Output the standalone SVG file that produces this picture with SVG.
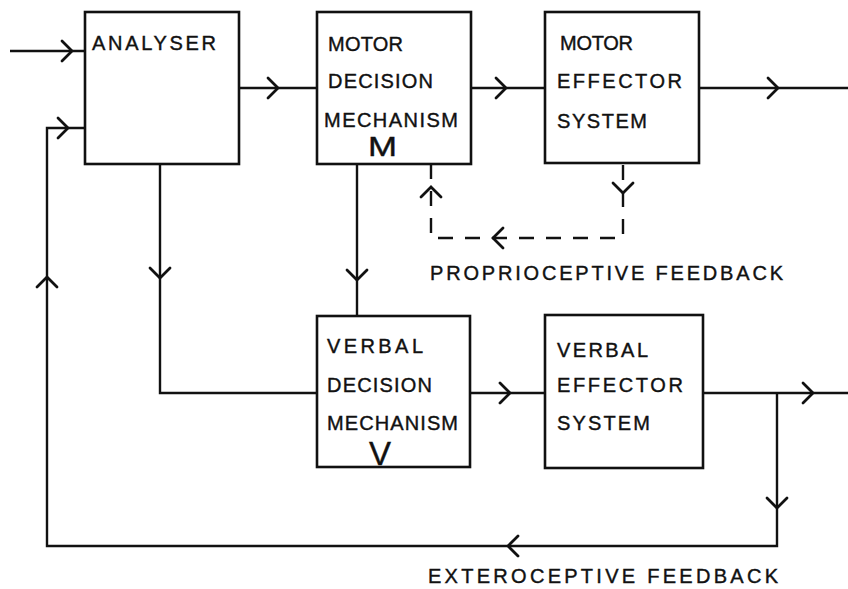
<svg xmlns="http://www.w3.org/2000/svg" width="848" height="589" viewBox="0 0 848 589">
<defs>
<style>
.box{fill:#fff;stroke:#111;stroke-width:2.6}
.ln{fill:none;stroke:#111;stroke-width:2.4}
.dash{fill:none;stroke:#111;stroke-width:2.4;stroke-dasharray:15 12}
.chev{fill:none;stroke:#111;stroke-width:2.8;stroke-linecap:round;stroke-linejoin:miter}
.t{font-family:"Liberation Sans",Arial,sans-serif;font-size:20px;fill:#111;stroke:#111;stroke-width:0.4}
.big{font-family:"Liberation Sans",Arial,sans-serif;fill:#111;stroke:#111;stroke-width:0.4}
</style>
<path id="chev" d="M-10,-10 L0,0 L-10,10"/>
</defs>
<rect width="848" height="589" fill="#fff"/>

<g id="connectors">
<path class="ln" d="M10,51 H85"/>
<path class="ln" d="M85,128 H47 V546 H777 V393"/>
<path class="ln" d="M239,88 H317"/>
<path class="ln" d="M471,88 H545"/>
<path class="ln" d="M699,88 H848"/>
<path class="ln" d="M160,164 V393 H317"/>
<path class="ln" d="M357,164 V316"/>
<path class="ln" d="M470,393 H545"/>
<path class="ln" d="M703,393 H848"/>
<path class="dash" d="M431,164 V238 H623 V164"/>
<g class="chev">
<use href="#chev" transform="translate(72,51)"/>
<use href="#chev" transform="translate(68,128)"/>
<use href="#chev" transform="translate(278,88)"/>
<use href="#chev" transform="translate(506,88)"/>
<use href="#chev" transform="translate(778,88)"/>
<use href="#chev" transform="translate(160,278) rotate(90)"/>
<use href="#chev" transform="translate(47,277) rotate(-90)"/>
<use href="#chev" transform="translate(357,280) rotate(90)"/>
<use href="#chev" transform="translate(510,393)"/>
<use href="#chev" transform="translate(813,393)"/>
<use href="#chev" transform="translate(777,508) rotate(90)"/>
<use href="#chev" transform="translate(508,546) rotate(180)"/>
<use href="#chev" transform="translate(431,187) rotate(-90)"/>
<use href="#chev" transform="translate(623,193) rotate(90)"/>
<use href="#chev" transform="translate(493,238) rotate(180)"/>
</g>
<text class="t" x="430" y="280" textLength="353" lengthAdjust="spacing">PROPRIOCEPTIVE FEEDBACK</text>
<text class="t" x="428" y="583" textLength="350" lengthAdjust="spacing">EXTEROCEPTIVE FEEDBACK</text>
</g>

<g id="analyser">
<rect class="box" x="85" y="12" width="154" height="152"/>
<text class="t" x="92" y="50" textLength="124" lengthAdjust="spacing">ANALYSER</text>
</g>

<g id="motor-decision">
<rect class="box" x="317" y="12" width="154" height="152"/>
<text class="t" x="328" y="51" textLength="75" lengthAdjust="spacing">MOTOR</text>
<text class="t" x="328" y="88" textLength="105" lengthAdjust="spacing">DECISION</text>
<text class="t" x="324" y="127" textLength="134" lengthAdjust="spacing">MECHANISM</text>
<text class="big" x="368" y="156" font-size="27" textLength="29" lengthAdjust="spacingAndGlyphs">M</text>
</g>

<g id="motor-effector">
<rect class="box" x="545" y="12" width="154" height="151"/>
<text class="t" x="560" y="50" textLength="73" lengthAdjust="spacing">MOTOR</text>
<text class="t" x="557" y="88" textLength="125" lengthAdjust="spacing">EFFECTOR</text>
<text class="t" x="557" y="128" textLength="90" lengthAdjust="spacing">SYSTEM</text>
</g>

<g id="verbal-decision">
<rect class="box" x="317" y="316" width="153" height="151"/>
<text class="t" x="327" y="353" textLength="96" lengthAdjust="spacing">VERBAL</text>
<text class="t" x="327" y="392" textLength="105" lengthAdjust="spacing">DECISION</text>
<text class="t" x="327" y="430" textLength="131" lengthAdjust="spacing">MECHANISM</text>
<text class="big" x="369" y="465" font-size="34" textLength="22" lengthAdjust="spacingAndGlyphs">V</text>
</g>

<g id="verbal-effector">
<rect class="box" x="545" y="315" width="158" height="153"/>
<text class="t" x="557" y="357" textLength="91" lengthAdjust="spacing">VERBAL</text>
<text class="t" x="557" y="392" textLength="126" lengthAdjust="spacing">EFFECTOR</text>
<text class="t" x="557" y="430" textLength="93" lengthAdjust="spacing">SYSTEM</text>
</g>
</svg>
